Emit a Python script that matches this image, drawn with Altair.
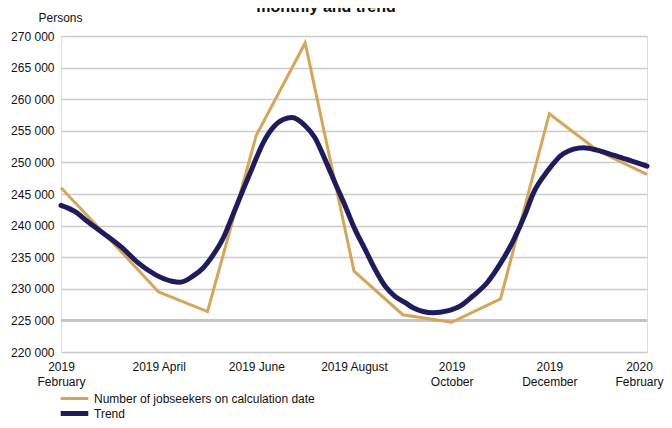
import json
import altair as alt
import pandas as pd

# ---- data ----
series_names = ["Number of jobseekers on calculation date", "Trend"]

# monthly values, 2019 February .. 2020 February (month index 0..12)
monthly_t = list(range(13))
monthly_v = [246000, 237800, 229500, 226400, 254300, 268900, 232800,
             225900, 224700, 228400, 257700, 251800, 248100]

# trend values at fractional month positions
trend_t = [0, 0.29, 0.55, 0.90, 1.25, 1.58, 1.93, 2.27, 2.44, 2.70,
           2.91, 3.11, 3.32, 3.52, 3.73, 3.93, 4.14, 4.34, 4.55, 4.73,
           5.00, 5.20, 5.41, 5.61, 5.82, 6.02, 6.23, 6.43, 6.64, 6.84,
           7.05, 7.21, 7.62, 7.91, 8.18, 8.44, 8.73, 8.99, 9.26, 9.51,
           9.67, 9.96, 10.29, 10.70, 10.99, 11.33, 11.66, 12.0]
trend_v = [243200, 242200, 240600, 238600, 236500, 234100, 232250, 231200, 231050, 232000,
           233300, 235300, 238000, 241700, 245700, 249400, 253100, 255500, 256800, 257100,
           255800, 253900, 250400, 246800, 243100, 239400, 236200, 233100, 230400, 228800,
           227800, 227000, 226200, 226500, 227300, 228900, 231000, 233900, 237600, 241900,
           245100, 248600, 251400, 252300, 251900, 251100, 250300, 249400]

x_tick_values = [0, 2, 4, 6, 8, 10, 12]
x_tick_labels = ["2019|February", "2019 April", "2019 June", "2019 August",
                 "2019|October", "2019|December", "2020|February"]
y_ticks = list(range(220000, 270001, 5000))
highlight_line = [225000]
title_text = "monthly and trend"
y_title = "Persons"

GOLD = "#D4A55A"
NAVY = "#1F1C5C"
FONT = "Liberation Sans"

monthly_df = pd.DataFrame({"t": monthly_t, "v": monthly_v, "series": series_names[0]})
trend_df = pd.DataFrame({"t": trend_t, "v": trend_v, "series": series_names[1]})

x_scale = alt.Scale(domain=[0, 12], nice=False, zero=False)
y_scale = alt.Scale(domain=[220000, 270000], nice=False, zero=False)

legend_cfg = dict(title=None, orient="none", legendX=5, legendY=355,
                  symbolType="M-2.3,0H2.3", symbolSize=144,
                  labelFont=FONT, labelFontSize=12, labelColor="#111",
                  labelLimit=0, labelOffset=11, rowPadding=-2, padding=0,
                  direction="vertical")

color = alt.Color("series:N",
                  scale=alt.Scale(domain=series_names, range=[GOLD, NAVY]),
                  legend=alt.Legend(**legend_cfg))
swidth = alt.StrokeWidth("series:N",
                         scale=alt.Scale(domain=series_names, range=[3, 5]),
                         legend=alt.Legend(**legend_cfg))

label_expr_x = "split(" + json.dumps(x_tick_labels) + "[round(datum.value/2)], '|')"

x_enc = alt.X("t:Q", scale=x_scale,
              axis=alt.Axis(values=x_tick_values, labelExpr=label_expr_x, title=None,
                            grid=False, domain=False, ticks=False, labelPadding=9,
                            labelFont=FONT, labelFontSize=12, labelColor="#111",
                            labelLineHeight=15, labelBaseline="top", labelFlush=False,
                            labelOverlap=False,
                            labelOffset={"condition": {"test": "datum.value >= 12", "value": -8},
                                         "value": 0}))
y_enc = alt.Y("v:Q", scale=y_scale,
              axis=alt.Axis(values=y_ticks, labelExpr="replace(format(datum.value, ','), ',', ' ')",
                            title=y_title, titleAngle=0, titleAlign="center", titleBaseline="alphabetic",
                            titleX=-1, titleY=-15, titleFont=FONT, titleFontSize=12,
                            titleFontWeight="normal", titleColor="#111",
                            grid=True, gridColor="#CBCBCB", gridWidth=1.5,
                            domain=False, ticks=False, labelPadding=7, labelOverlap=False,
                            labelFont=FONT, labelFontSize=12, labelColor="#111"))

hl = alt.Chart(pd.DataFrame({"v": highlight_line})).mark_rule(
    color="#C4C4C4", strokeWidth=3).encode(y=y_enc)

gold_line = alt.Chart(monthly_df).mark_line(strokeCap="butt", strokeJoin="miter").encode(
    x=x_enc, y=y_enc, color=color, strokeWidth=swidth)

trend_line = alt.Chart(trend_df).mark_line(interpolate="monotone", strokeCap="round").encode(
    x=x_enc, y=y_enc, color=color, strokeWidth=swidth)

title_mark = alt.Chart(pd.DataFrame({"txt": [title_text]})).mark_text(
    font=FONT, fontSize=16, fontWeight="bold", color="#111",
    align="center", baseline="alphabetic").encode(
    text="txt:N", x=alt.value(265), y=alt.value(-24))

chart = alt.layer(hl, gold_line, trend_line, title_mark).properties(
    width=586, height=316,
    autosize=alt.AutoSizeParams(type="none"),
    padding={"left": 53, "top": 28, "right": 17, "bottom": 68},
).configure_view(stroke=None).configure(background="white")

chart.save("out.html", embed_options={"renderer": "svg", "actions": False})
